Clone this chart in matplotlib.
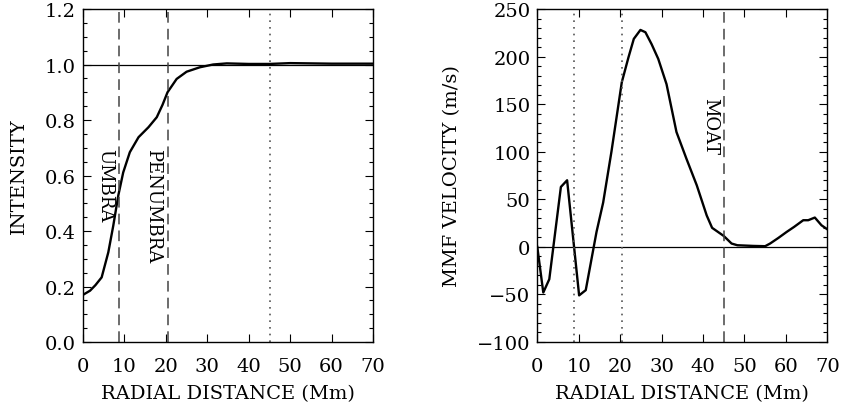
import matplotlib
matplotlib.use('Agg')
import matplotlib.pyplot as plt
from matplotlib.ticker import MultipleLocator, FormatStrFormatter, FuncFormatter

plt.rcParams['font.family'] = ['DejaVu Serif']
plt.rcParams['font.size'] = 14

# left panel: mean intensity profile
r_int = [0, 1.7, 3.0, 4.5, 6.1, 7.3, 8.5, 9.7, 11.3, 13.4, 15.8, 17.8, 19.2, 20.4,
         22.6, 25.0, 28.2, 31.4, 34.7, 40, 45, 50, 55, 60, 65, 70]
intensity = [0.17, 0.185, 0.205, 0.233, 0.323, 0.419, 0.527, 0.611, 0.684, 0.738,
             0.774, 0.81, 0.855, 0.90, 0.948, 0.974, 0.99, 1.0, 1.004, 1.002,
             1.002, 1.005, 1.004, 1.003, 1.003, 1.003]

# right panel: MMF radial velocity
r_vel = [0, 1.45, 2.9, 5.7, 7.2, 10.1, 11.7, 14.3, 15.9, 17.9, 20.4, 22.0, 23.3,
         24.9, 26.1, 27.6, 29.2, 31.2, 33.6, 36.0, 38.5, 40.9, 42.2, 45.0, 46.9,
         48.3, 52.1, 55.0, 56.2, 58.2, 60.2, 62.0, 64.2, 65.4, 67.0, 68.6, 70.0]
velocity = [0, -48, -34, 63, 70, -51, -45.5, 15.7, 46.5, 100, 173, 199, 218.6,
            228, 225.6, 213, 197.6, 171, 120.7, 92.7, 64.7, 33, 20, 11.5, 3.5,
            1.7, 1, 0.7, 3.5, 9.4, 15.7, 21, 28, 28, 30.8, 22.7, 18.5]

umbra_edge = 8.8
penumbra_edge = 20.4
moat_edge = 45.1

fig = plt.figure(figsize=(8.42, 4.10), dpi=100)
ax1 = fig.add_axes([0.0986, 0.1634, 0.3444, 0.8122])
ax2 = fig.add_axes([0.6381, 0.1634, 0.3444, 0.8122])

dash = (0, (7, 4))
dots = (0, (1, 3))
for ax in (ax1, ax2):
    ax.set_xlim(0, 70)
    ax.xaxis.set_major_locator(MultipleLocator(10))
    ax.tick_params(which='both', direction='in', top=True, right=True, labelsize=14)
    ax.tick_params(which='major', length=6, width=0.8)
    ax.tick_params(which='minor', length=3, width=0.8)
    ax.tick_params(axis='x', which='major', pad=11)
    ax.tick_params(axis='y', which='major', pad=5)
    ax.set_xlabel('RADIAL DISTANCE (Mm)', fontsize=14, labelpad=6)
    for s in ax.spines.values():
        s.set_linewidth(1.0)

# left
ax1.plot(r_int, intensity, color='black', lw=1.7)
ax1.axhline(1.0, color='black', lw=0.9)
ax1.axvline(umbra_edge, color='#444444', lw=1.1, ls=dash)
ax1.axvline(penumbra_edge, color='#444444', lw=1.1, ls=dash)
ax1.axvline(moat_edge, color='#555555', lw=1.2, ls=dots)
ax1.set_ylim(0, 1.2)
ax1.yaxis.set_major_locator(MultipleLocator(0.2))
ax1.yaxis.set_minor_locator(MultipleLocator(0.05))
ax1.yaxis.set_major_formatter(FormatStrFormatter('%.1f'))
ax1.set_ylabel('INTENSITY', fontsize=14, labelpad=12)
ax1.text(5.3, 0.70, 'UMBRA', rotation=-90, ha='center', va='top', fontsize=13)
ax1.text(17.0, 0.70, 'PENUMBRA', rotation=-90, ha='center', va='top', fontsize=13)

# right
ax2.plot(r_vel, velocity, color='black', lw=1.7)
ax2.axhline(0, color='black', lw=0.9)
ax2.axvline(umbra_edge, color='#555555', lw=1.2, ls=dots)
ax2.axvline(penumbra_edge, color='#555555', lw=1.2, ls=dots)
ax2.axvline(moat_edge, color='#444444', lw=1.1, ls=dash)
ax2.set_ylim(-100, 250)
ax2.yaxis.set_major_locator(MultipleLocator(50))
ax2.yaxis.set_minor_locator(MultipleLocator(10))
ax2.yaxis.set_major_formatter(FuncFormatter(
    lambda v, p: ('\u2212%d' % -v) if v < 0 else '%d' % v))
ax2.set_ylabel('MMF VELOCITY (m/s)', fontsize=14, labelpad=11)
ax2.text(41.7, 158, 'MOAT', rotation=-90, ha='center', va='top', fontsize=13)

fig.savefig('out.png', dpi=100)
